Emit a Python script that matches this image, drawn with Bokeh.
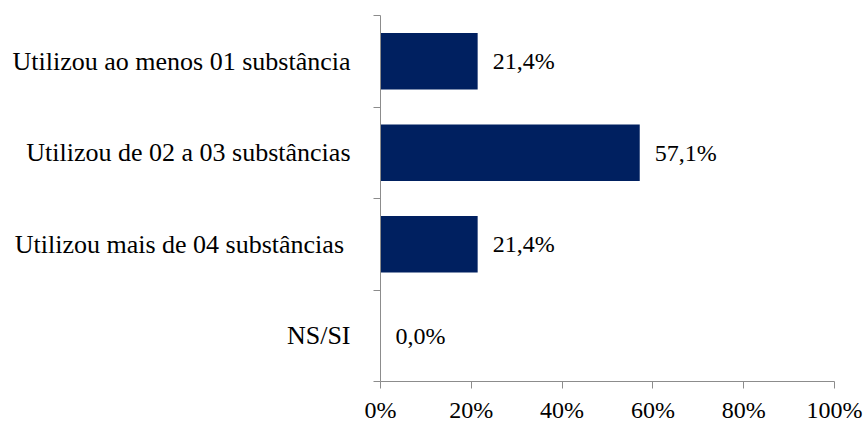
from bokeh.plotting import figure
from bokeh.models import ColumnDataSource, FixedTicker, Range1d
from bokeh.core.properties import value
from bokeh.embed import file_html
from bokeh.resources import INLINE

# Categories from top to bottom and their shares (%)
categories = [
    "Utilizou ao menos 01 substância",
    "Utilizou de 02 a 03 substâncias",
    "Utilizou mais de 04 substâncias\u00a0",
    "NS/SI",
]
shares = [21.4, 57.1, 21.4, 0.0]
share_labels = ["21,4%", "57,1%", "21,4%", "0,0%"]
x_ticks = [0, 20, 40, 60, 80, 100]

FONT = "Liberation Serif"
AXIS_COLOR = "#8c8c8c"
BAR_COLOR = "#002060"

n = len(categories)
centers = [n - i - 0.5 for i in range(n)]

src = ColumnDataSource(dict(y=centers, share=shares, label=share_labels))

p = figure(
    width=864, height=425,
    x_range=Range1d(0, 100), y_range=Range1d(0, n),
    output_backend="svg", toolbar_location=None,
    min_border_left=380, min_border_right=30,
    min_border_top=15, min_border_bottom=44,
)
p.outline_line_color = None
p.xgrid.visible = False
p.ygrid.visible = False

p.hbar(y="y", left=0, right="share", height=0.62, source=src,
       fill_color=BAR_COLOR, line_color=None)

p.text(x="share", y="y", text="label", source=src,
       x_offset=15, text_baseline="middle", text_align="left",
       text_font=value(FONT), text_font_size="24px", text_color="#000000")

# X axis: percentage ticks
p.xaxis.ticker = FixedTicker(ticks=x_ticks)
p.xaxis.major_label_overrides = {t: f"{t}%" for t in x_ticks}
p.xaxis.major_tick_in = 0
p.xaxis.major_tick_out = 7
p.xaxis.minor_tick_line_color = None
p.xaxis.axis_line_color = AXIS_COLOR
p.xaxis.major_tick_line_color = AXIS_COLOR
p.xaxis.major_label_standoff = 8
p.xaxis.major_label_text_font = FONT
p.xaxis.major_label_text_font_size = "24px"
p.xaxis.major_label_text_color = "#000000"

# Y axis: labels at band centres, tick marks at band boundaries
p.yaxis.ticker = FixedTicker(ticks=centers, minor_ticks=list(range(n + 1)))
p.yaxis.major_label_overrides = {c: cat for c, cat in zip(centers, categories)}
p.yaxis.major_tick_in = 0
p.yaxis.major_tick_out = 0
p.yaxis.minor_tick_in = 0
p.yaxis.minor_tick_out = 7
p.yaxis.axis_line_color = AXIS_COLOR
p.yaxis.minor_tick_line_color = AXIS_COLOR
p.yaxis.major_label_standoff = 23
p.yaxis.major_label_text_font = FONT
p.yaxis.major_label_text_font_size = "26px"
p.yaxis.major_label_text_color = "#000000"

open("out.html", "w").write(file_html(p, INLINE))
